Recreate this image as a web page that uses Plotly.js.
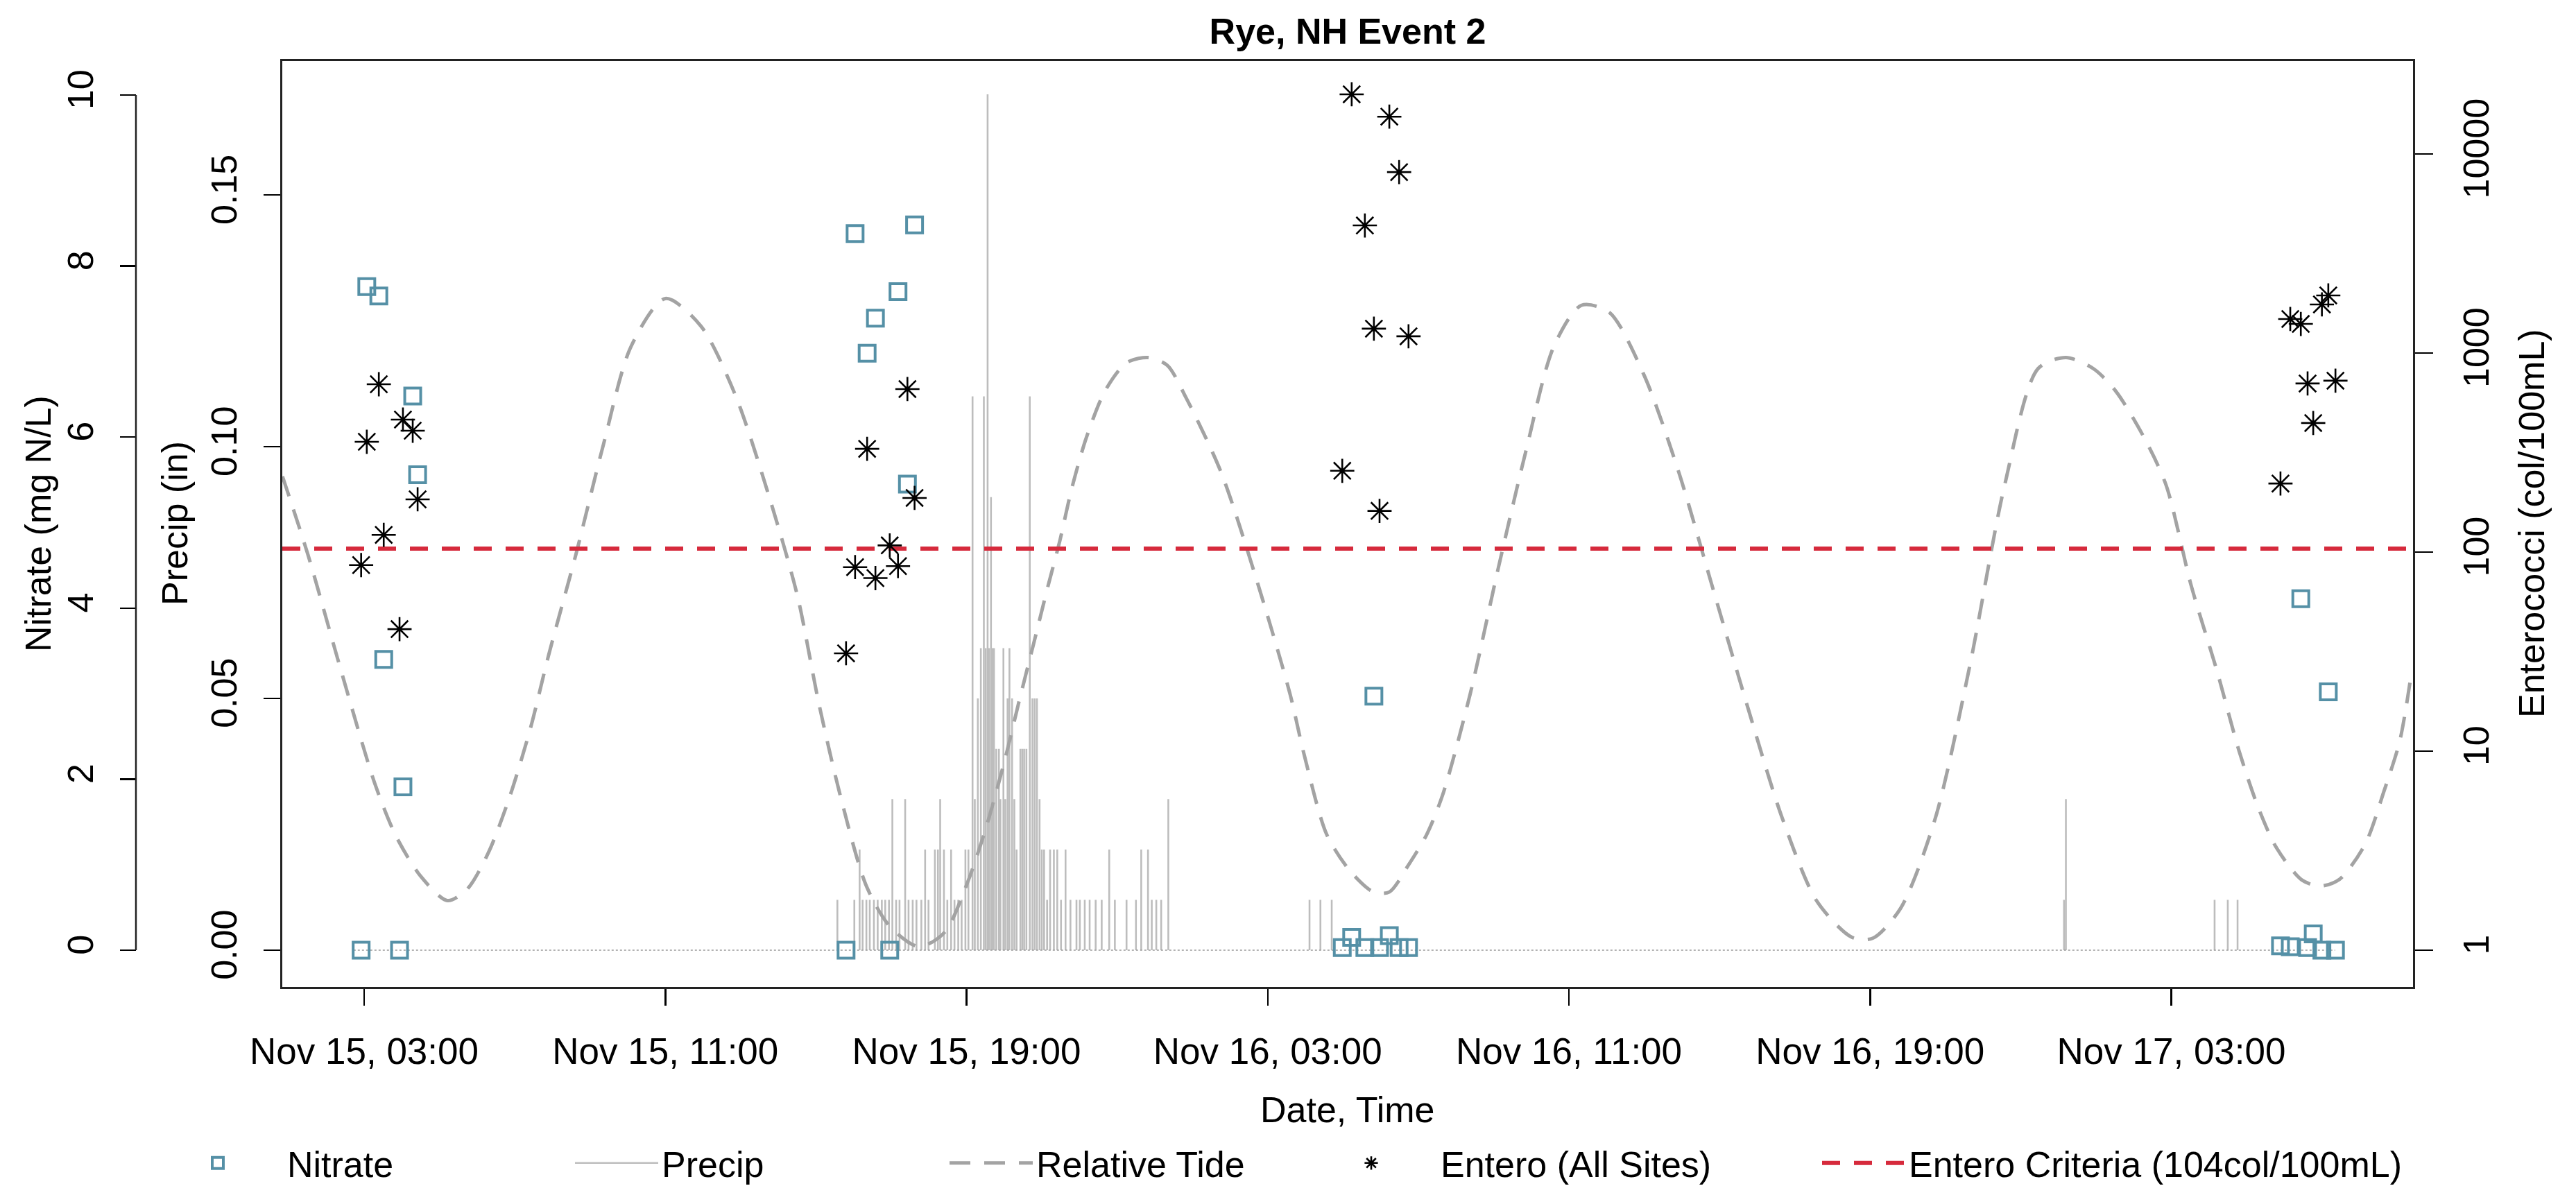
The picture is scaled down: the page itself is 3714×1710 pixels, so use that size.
<!DOCTYPE html>
<html><head><meta charset="utf-8">
<script src="https://cdn.plot.ly/plotly-3.0.1.min.js"></script>
<style>html,body{margin:0;padding:0;background:#fff}</style>
</head><body><div id="chart" style="width:3714px;height:1710px"></div>
<script>
// All times are hours after Nov 15 00:00
const xTickHours = [3, 11, 19, 27, 35, 43, 51];
const xTickLabels = ['Nov 15, 03:00','Nov 15, 11:00','Nov 15, 19:00','Nov 16, 03:00','Nov 16, 11:00','Nov 16, 19:00','Nov 17, 03:00'];

const sampleHours = [2.92,3.07,3.39,3.52,3.94,4.03,4.29,4.42,
  15.80,16.04,16.36,16.58,16.96,17.18,17.43,17.62,
  28.98,29.23,29.58,29.82,29.97,30.23,30.49,30.74,
  53.90,54.16,54.44,54.62,54.77,55.00,55.17,55.36];
const nitrateValues = [0,7.76,7.65,3.40,0,1.91,6.48,5.56,
  0,8.38,6.98,7.39,0,7.70,5.45,8.48,
  0.03,0.15,0.03,2.97,0.03,0.17,0.03,0.03,
  0.05,0.04,4.11,0.03,0.19,0.0,3.02,0.0];
const enteroValues = [86,358,697,122,41,463,407,184,
  31,84,330,74,108,85,659,187,
  256,19950,4375,1325,161,15400,8110,1213,
  221,1482,1400,703,445,1754,1947,726];

const enteroCriteria = 104;

const precipHours = [15.57,16.02,16.16,16.24,16.34,16.43,16.54,16.64,16.75,16.84,16.94,17.03,17.13,17.22,17.37,17.46,17.57,17.67,17.80,17.90,17.99,
  18.16,18.24,18.30,18.40,18.49,18.59,18.68,18.78,18.87,18.97,19.05,19.16,19.22,19.30,19.38,19.46,19.51,19.56,19.60,19.65,19.69,19.73,19.79,19.86,19.90,19.98,
  20.03,20.09,20.14,20.21,20.27,20.33,20.43,20.48,20.53,20.59,20.68,20.75,20.81,20.87,20.94,21.00,21.06,21.14,21.22,21.32,21.41,21.51,21.63,21.76,21.92,
  22.01,22.14,22.27,22.43,22.59,22.79,22.94,23.25,23.50,23.64,23.82,23.92,24.04,24.17,24.36,
  28.11,28.40,28.70,48.15,48.20,52.15,52.50,52.76];
const precipValues = [0.01,0.01,0.02,0.01,0.01,0.01,0.01,0.01,0.01,0.01,0.01,0.03,0.01,0.01,0.03,0.01,0.01,0.01,0.01,0.02,0.01,
  0.02,0.02,0.03,0.02,0.01,0.02,0.01,0.01,0.01,0.02,0.02,0.11,0.03,0.05,0.06,0.11,0.06,0.17,0.06,0.09,0.06,0.06,0.04,0.04,0.03,0.06,
  0.03,0.05,0.06,0.05,0.03,0.02,0.04,0.04,0.04,0.04,0.11,0.05,0.05,0.05,0.03,0.02,0.02,0.01,0.02,0.02,0.02,0.01,0.02,0.01,0.01,
  0.01,0.01,0.01,0.01,0.01,0.02,0.01,0.01,0.01,0.02,0.02,0.01,0.01,0.01,0.03,
  0.01,0.01,0.01,0.01,0.03,0.01,0.01,0.01];
const precipRecordHours = [2.72, 55.35];

const tideHours = [0.83,1.51,2.36,3.29,3.85,4.51,5.21,5.73,6.30,6.87,7.42,7.90,8.62,9.36,10.09,11.00,11.94,12.86,13.78,14.51,15.07,15.64,16.34,16.96,17.74,
  18.42,18.99,19.51,20.02,20.39,20.78,21.16,21.48,21.79,22.18,22.68,23.25,23.82,24.33,24.83,25.75,26.67,27.59,27.96,28.57,29.20,29.81,30.23,30.73,31.22,31.65,
  32.38,33.12,33.86,34.60,35.33,36.07,36.99,37.91,38.83,39.75,40.67,41.59,42.52,43.07,43.81,44.73,45.65,46.57,47.46,48.20,48.93,49.52,50.27,50.86,51.53,
  52.21,52.80,53.30,53.79,54.47,54.97,55.47,56.15,56.65,57.07,57.36];
const tideValues = [0.554,0.462,0.331,0.194,0.133,0.086,0.058,0.071,0.114,0.180,0.260,0.345,0.462,0.592,0.706,0.762,0.730,0.649,0.527,0.414,0.290,0.182,0.075,0.028,0.004,
  0.021,0.075,0.142,0.223,0.290,0.358,0.425,0.479,0.539,0.599,0.654,0.687,0.693,0.684,0.646,0.560,0.438,0.300,0.230,0.135,0.092,0.068,0.068,0.099,0.135,0.182,
  0.300,0.446,0.584,0.706,0.754,0.746,0.673,0.560,0.422,0.284,0.154,0.057,0.015,0.014,0.049,0.154,0.333,0.543,0.680,0.693,0.680,0.654,0.600,0.544,0.426,
  0.327,0.233,0.168,0.120,0.082,0.075,0.083,0.124,0.186,0.245,0.319];

const xRangeHours = [0.826, 57.42];

function toTime(h){
  const d = new Date(Date.UTC(2016,10,15,0,0,0) + Math.round(h*3600000));
  return d.toISOString().slice(0,19).replace('T',' ');
}

const FONT = 'Liberation Sans, Arial, Helvetica, sans-serif';
const W = 3714, H = 1710;
const ML = 150, MR = 235, MT = 88, MB = 287;
const PW = W - ML - MR, PH = H - MT - MB;
const px = X => (X - ML) / PW;
const py = Y => (H - MB - Y) / PH;

// precip as vertical lines (type "h")
const pX = [], pY = [];
precipHours.forEach((h,i) => { pX.push(toTime(h), toTime(h), null); pY.push(0, precipValues[i], null); });

const traces = [
  { type:'scatter', mode:'lines', x:pX, y:pY, yaxis:'y', name:'Precip', legend:'legend2',
    line:{color:'#bdbdbd', width:2.6}, connectgaps:false, hoverinfo:'skip' },
  { type:'scatter', mode:'lines', x:precipRecordHours.map(toTime), y:[0,0], yaxis:'y', showlegend:false,
    line:{color:'#9a9a9a', width:1.6, dash:'dot'}, hoverinfo:'skip' },
  { type:'scatter', mode:'markers', x:sampleHours.map(toTime), y:nitrateValues, yaxis:'y2', name:'Nitrate', legend:'legend',
    marker:{symbol:'square-open', size:23, color:'#5590a6', line:{color:'#5590a6', width:4}} },
  { type:'scatter', mode:'lines', x:tideHours.map(toTime), y:tideValues, yaxis:'y3', name:'Relative Tide', legend:'legend3',
    line:{color:'#a3a3a3', width:5, dash:'30px,20px', shape:'spline', smoothing:0.8} },
  { type:'scatter', mode:'lines', x:xRangeHours.map(toTime), y:[enteroCriteria, enteroCriteria], yaxis:'y4', name:'Entero Criteria (104col/100mL)', legend:'legend5',
    line:{color:'#d62a3c', width:6, dash:'26px,20px'} },
  { type:'scatter', mode:'markers', x:sampleHours.map(toTime), y:enteroValues, yaxis:'y4', name:'Entero (All Sites)', legend:'legend4',
    marker:{symbol:'asterisk-open', size:29, color:'#000', line:{color:'#111', width:2.6}} }
];

const axLine = '#222';
const legBase = (X, iw) => ({ x:px(X), y:py(1677), xanchor:'left', yanchor:'middle', orientation:'h',
  bgcolor:'rgba(0,0,0,0)', borderwidth:0, font:{family:FONT, size:52, color:'#000'}, itemwidth:iw });

const layout = {
  width:W, height:H,
  margin:{l:ML, r:MR, t:MT, b:MB, pad:0, autoexpand:false},
  paper_bgcolor:'#fff', plot_bgcolor:'#fff',
  font:{family:FONT, size:52, color:'#000'},
  title:{text:'Rye, NH Event 2', font:{family:FONT, size:52, color:'#000', weight:'bold'},
         xref:'paper', x:px(1943), xanchor:'center', yref:'container', y:1-45/H, yanchor:'middle'},
  xaxis:{type:'date', domain:[px(407),1], range:xRangeHours.map(toTime),
         tickvals:xTickHours.map(toTime), ticktext:xTickLabels,
         ticks:'outside', ticklen:24, tickwidth:2.5, tickcolor:'#000',
         showline:true, mirror:true, linecolor:axLine, linewidth:3,
         showgrid:false, zeroline:false, tickfont:{size:53}, ticklabelstandoff:20},
  yaxis:{range:[-0.0073,0.1766], tickvals:[0,0.05,0.1,0.15], ticktext:['0.00','0.05','0.10','0.15'],
         ticks:'outside', ticklen:24, tickwidth:2.5, tickcolor:'#000',
         showline:true, mirror:true, linecolor:axLine, linewidth:3,
         showgrid:false, zeroline:false, tickangle:-90, tickfont:{size:52}, ticklabelstandoff:18},
  yaxis2:{overlaying:'y', anchor:'free', position:px(196), side:'left', range:[-0.43,10.397],
         tickvals:[0,2,4,6,8,10], ticktext:['0','2','4','6','8','10'],
         ticks:'outside', ticklen:23, tickwidth:2.5, tickcolor:'#000',
         showline:false, showgrid:false, zeroline:false, tickangle:-90, tickfont:{size:52}, ticklabelstandoff:18},
  yaxis3:{overlaying:'y', range:[-0.043,1.0397], visible:false, showgrid:false, zeroline:false},
  yaxis4:{overlaying:'y', anchor:'x', side:'right', type:'log', range:[-0.185,4.467],
         tickvals:[1,10,100,1000,10000], ticktext:['1','10','100','1000','10000'],
         ticks:'outside', ticklen:26, tickwidth:2.5, tickcolor:'#000',
         showline:true, linecolor:axLine, linewidth:3,
         showgrid:false, zeroline:false, tickangle:-90, tickfont:{size:52}, ticklabelstandoff:18},
  shapes:[{type:'line', xref:'paper', yref:'y2', x0:px(196), x1:px(196), y0:0, y1:10, line:{color:axLine, width:2.5}}],
  annotations:[
    {text:'Date, Time', xref:'paper', yref:'paper', x:px(1943), y:py(1600), xanchor:'center', yanchor:'middle', showarrow:false, font:{size:52}},
    {text:'Nitrate (mg N/L)', xref:'paper', yref:'paper', x:px(55), y:py(755), xanchor:'center', yanchor:'middle', textangle:-90, showarrow:false, font:{size:52}},
    {text:'Precip (in)', xref:'paper', yref:'paper', x:px(252), y:py(755), xanchor:'center', yanchor:'middle', textangle:-90, showarrow:false, font:{size:52}},
    {text:'Enterococci (col/100mL)', xref:'paper', yref:'paper', x:px(3650), y:py(755), xanchor:'center', yanchor:'middle', textangle:-90, showarrow:false, font:{size:52}}
  ],
  showlegend:true,
  legend:legBase(214, 190),
  legend2:legBase(824, 120),
  legend3:legBase(1364, 120),
  legend4:legBase(1877, 190),
  legend5:legBase(2622, 120)
};

Plotly.newPlot('chart', traces, layout, {staticPlot:true, displayModeBar:false});
</script></body></html>
